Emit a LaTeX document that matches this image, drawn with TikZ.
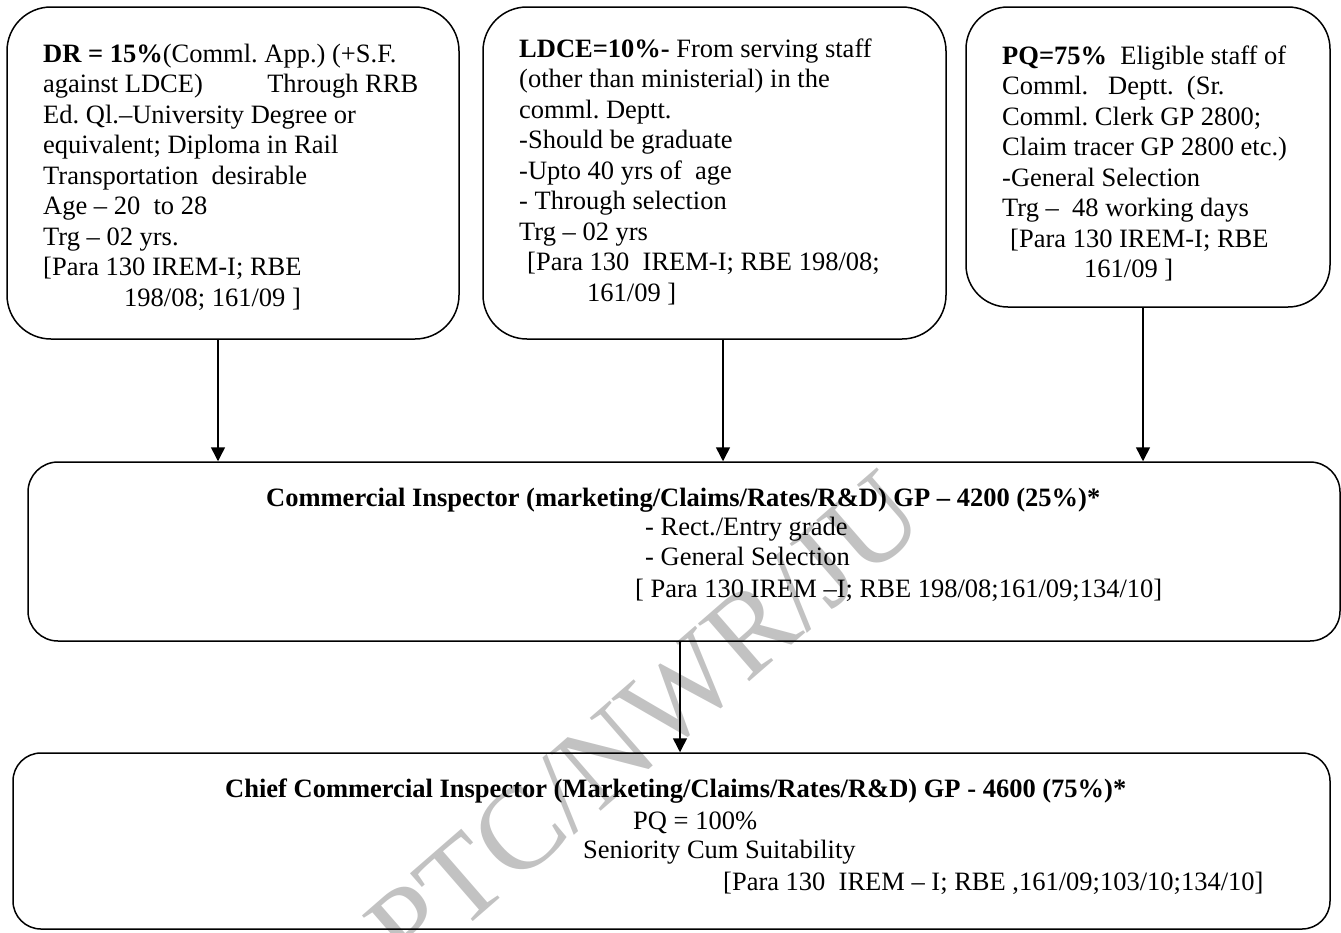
\documentclass[tikz,border=0pt]{standalone}
\usepackage{fontspec}
\setmainfont{Liberation Serif}
\frenchspacing
\usetikzlibrary{arrows.meta}
\tikzset{
  box/.style={draw, line width=1.5pt, rounded corners=#1, inner sep=0pt},
  txt/.style={inner sep=0pt, anchor=base west, font=\fontsize{26.5}{30.5}\selectfont},
  arr/.style={line width=1.5pt, -{Triangle[width=14pt,length=14pt]}},
  wm/.style={inner sep=0pt, text=black!24, font=\fontsize{118}{118}\selectfont}
}
\begin{document}
\begin{tikzpicture}[x=1pt,y=-1pt]
\useasboundingbox (0,0) rectangle (1341,932);
% watermark
\node[wm, rotate=41] (wm) at (645,722) {PTC/NWR/JU};
% boxes
\node[box=44pt, minimum width=452pt, minimum height=332pt] (b1) at (233,173) {};
\node[box=44pt, minimum width=463pt, minimum height=332pt] (b2) at (714.5,173) {};
\node[box=42pt, minimum width=364pt, minimum height=300pt] (b3) at (1148,157) {};
\node[box=30pt, minimum width=1312pt, minimum height=179pt] (b4) at (684,551.5) {};
\node[box=28pt, minimum width=1317pt, minimum height=176pt] (b5) at (671.5,841) {};
% texts of top boxes
\node[txt] (t1) at (43,62) {\parbox[t]{375pt}{\raggedright
\textbf{DR = 15\%}(Comml. App.) (+S.F.\\
against LDCE)\hfill Through RRB\\
Ed. Ql.–University Degree or\\
equivalent; Diploma in Rail\\
Transportation\ \ desirable\\
Age – 20\ \ to 28\\
Trg – 02 yrs.\\
{}[Para 130 IREM-I; RBE\\
\hspace*{81pt}198/08; 161/09 ]}};
\node[txt] (t2) at (519,57) {\parbox[t]{420pt}{\raggedright
\textbf{LDCE=10\%-} From serving staff\\
(other than ministerial) in the\\
comml. Deptt.\\
-Should be graduate\\
-Upto 40 yrs of\ \ age\\
- Through selection\\
Trg – 02 yrs\\
\hspace*{8pt}[Para 130\ \ IREM-I; RBE 198/08;\\
\hspace*{68pt}161/09 ]}};
\node[txt] (t3) at (1002,64) {\parbox[t]{330pt}{\raggedright
\textbf{PQ=75\%}\ \ Eligible staff of\\
Comml.\ \ \ Deptt.\ \ (Sr.\\
Comml. Clerk GP 2800;\\
Claim tracer GP 2800 etc.)\\
-General Selection\\
Trg –\ \ 48 working days\\
\hspace*{8pt}[Para 130 IREM-I; RBE\\
\hspace*{82pt}161/09 ]}};
% texts of box 4
\node[txt, font=\fontsize{26.5}{30.5}\selectfont\bfseries] (t4a) at (266,506) {Commercial Inspector (marketing/Claims/Rates/R\&D) GP – 4200 (25\%)*};
\node[txt] (t4b) at (645,535) {- Rect./Entry grade};
\node[txt] (t4c) at (645,565) {- General Selection};
\node[txt] (t4d) at (635,597) {[ Para 130 IREM –I; RBE 198/08;161/09;134/10]};
% texts of box 5
\node[txt, font=\fontsize{26.5}{30.5}\selectfont\bfseries] (t5a) at (225,797) {Chief Commercial Inspector (Marketing/Claims/Rates/R\&D) GP - 4600 (75\%)*};
\node[txt] (t5b) at (633,829) {PQ = 100\%};
\node[txt] (t5c) at (583,858) {Seniority Cum Suitability};
\node[txt] (t5d) at (723,890) {[Para 130\ \ IREM – I; RBE ,161/09;103/10;134/10]};
% connectors
\draw[arr] ([xshift=-15pt]b1.south) -- ([xshift=-15pt]b1.south |- b4.north);
\draw[arr] ([xshift=8.5pt]b2.south) -- ([xshift=8.5pt]b2.south |- b4.north);
\draw[arr] ([xshift=-5pt]b3.south) -- ([xshift=-5pt]b3.south |- b4.north);
\draw[arr] ([xshift=-4pt]b4.south) -- ([xshift=-4pt]b4.south |- b5.north);
\end{tikzpicture}
\end{document}
